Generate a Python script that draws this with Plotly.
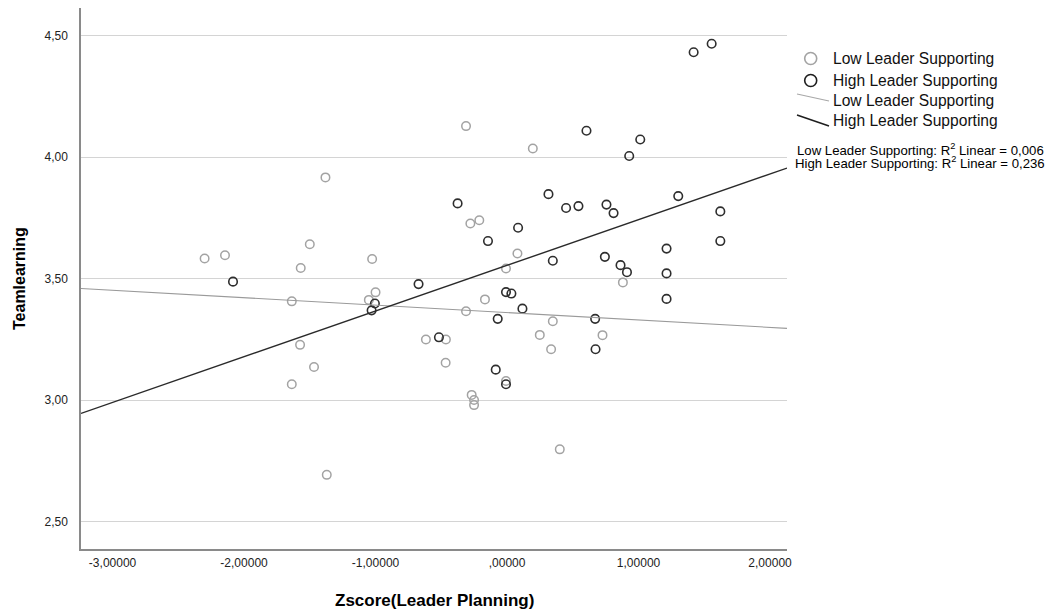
import plotly.graph_objects as go

# ---- data ----
low_x = [-2.300, -2.145, -1.381, -1.500, -1.569, -1.026, -1.637, -1.000, -1.051, -1.574,
         -1.468, -1.637, -0.617, -0.465, -0.467, -0.312, 0.196, -0.279, -0.211, 0.079,
         -0.008, 0.881, -0.168, -0.312, 0.348, 0.249, 0.726, 0.335, -0.008, -0.269,
         -0.251, -0.251, 0.401, -1.371]
low_y = [3.583, 3.597, 3.917, 3.642, 3.544, 3.581, 3.407, 3.444, 3.413, 3.228,
         3.137, 3.066, 3.250, 3.250, 3.154, 4.128, 4.036, 3.727, 3.741, 3.604,
         3.542, 3.485, 3.415, 3.366, 3.325, 3.269, 3.268, 3.210, 3.079, 3.022,
         3.001, 2.980, 2.798, 2.693]

high_x = [-2.084, -0.673, -1.005, -1.030, -0.518, 0.604, 1.013, 0.929, -0.376, 0.315,
          0.449, 0.543, 0.756, 0.810, 1.302, 1.622, 1.622, 0.084, -0.145, 0.348,
          0.744, 0.863, 0.912, 1.213, 1.213, 1.213, -0.008, 0.033, 0.117, -0.071,
          0.670, 0.673, -0.086, -0.008, 1.419, 1.556]
high_y = [3.488, 3.478, 3.398, 3.370, 3.259, 4.109, 4.073, 4.005, 3.810, 3.848,
          3.791, 3.799, 3.805, 3.770, 3.840, 3.777, 3.655, 3.710, 3.655, 3.574,
          3.590, 3.556, 3.527, 3.624, 3.522, 3.417, 3.445, 3.439, 3.377, 3.335,
          3.335, 3.210, 3.126, 3.066, 4.432, 4.467]

# linear fit lines (intercept, slope)
low_fit = [3.361, -0.0306]
high_fit = [3.555, 0.188]

x_range = [-3.240, 2.129]
y_range = [2.388, 4.614]

x_tickvals = [-3, -2, -1, 0, 1, 2]
x_ticktext = ["-3,00000", "-2,00000", "-1,00000", ",00000", "1,00000", "2,00000"]
y_tickvals = [2.5, 3.0, 3.5, 4.0, 4.5]
y_ticktext = ["2,50", "3,00", "3,50", "4,00", "4,50"]

series_names = ["Low Leader Supporting", "High Leader Supporting"]
r2_texts = ["Low Leader Supporting: R<sup>2</sup> Linear = 0,006",
            "High Leader Supporting: R<sup>2</sup> Linear = 0,236"]

LOW_C = "#a3a3a3"
HIGH_C = "#2e2e2e"
FONT = "Liberation Sans, Arial, sans-serif"

# page body has an 8px margin: build the figure in page coordinates minus that offset
OFF = 8
W, H = 1054 - OFF, 614 - OFF
L, R, T, B = 81 - OFF, 787 - OFF, 8 - OFF, 549 - OFF


def px(xp):
    return (xp - OFF - L) / (R - L)


def py(yp):
    return (B - (yp - OFF)) / (B - T)


fig = go.Figure()

fig.add_trace(go.Scatter(
    x=low_x, y=low_y, mode="markers", name=series_names[0],
    marker=dict(symbol="circle", size=8.5, color="rgba(0,0,0,0)",
                line=dict(color=LOW_C, width=1.5)),
    showlegend=False, cliponaxis=False))
fig.add_trace(go.Scatter(
    x=high_x, y=high_y, mode="markers", name=series_names[1],
    marker=dict(symbol="circle", size=8.5, color="rgba(0,0,0,0)",
                line=dict(color=HIGH_C, width=1.6)),
    showlegend=False, cliponaxis=False))

for fit, col, w in [(low_fit, "#9a9a9a", 1.1), (high_fit, "#2a2a2a", 1.4)]:
    xs = list(x_range)
    ys = [fit[0] + fit[1] * v for v in xs]
    fig.add_trace(go.Scatter(x=xs, y=ys, mode="lines",
                             line=dict(color=col, width=w),
                             showlegend=False, hoverinfo="skip"))

shapes = []
annotations = []

# custom legend: circles
for cy, col in [(58.5, LOW_C), (80.5, "#1e1e1e")]:
    shapes.append(dict(type="circle", xref="paper", yref="paper",
                       xsizemode="pixel", ysizemode="pixel",
                       xanchor=px(810.7), yanchor=py(cy),
                       x0=-6, x1=6, y0=-6, y1=6,
                       line=dict(color=col, width=1.6), fillcolor="rgba(0,0,0,0)"))
# legend lines (diagonal)
for (y0, y1), col, w in [((94, 101), "#a8a8a8", 1.2), ((115, 126), "#1e1e1e", 1.5)]:
    shapes.append(dict(type="line", xref="paper", yref="paper",
                       x0=px(797), x1=px(829), y0=py(y0), y1=py(y1),
                       line=dict(color=col, width=w)))

for cy, name in zip([59, 80.5, 100, 120.5], series_names + series_names):
    annotations.append(dict(text=name, xref="paper", yref="paper",
                            x=px(830.5), y=py(cy), xanchor="left", yanchor="middle",
                            showarrow=False,
                            font=dict(family=FONT, size=15.6, color="#111111")))

for cy, t in zip([149.5, 163], r2_texts):
    annotations.append(dict(text=t, xref="paper", yref="paper",
                            x=px(920), y=py(cy), xanchor="center", yanchor="middle",
                            showarrow=False,
                            font=dict(family=FONT, size=13.2, color="#000000")))

# axis titles
annotations.append(dict(text="<b>Teamlearning</b>", xref="paper", yref="paper",
                        x=px(19), y=py(279), xanchor="center", yanchor="middle",
                        textangle=-90, showarrow=False,
                        font=dict(family=FONT, size=16, color="#000000")))
annotations.append(dict(text="<b>Zscore(Leader Planning)</b>", xref="paper", yref="paper",
                        x=px(434), y=py(600), xanchor="center", yanchor="middle",
                        showarrow=False,
                        font=dict(family=FONT, size=17, color="#000000")))

fig.update_layout(
    width=W, height=H,
    margin=dict(l=L, r=W - R, t=T, b=H - B, autoexpand=False),
    paper_bgcolor="white", plot_bgcolor="white",
    font=dict(family=FONT, size=12, color="#222222"),
    shapes=shapes, annotations=annotations,
    showlegend=False,
)
fig.update_xaxes(range=x_range, tickvals=x_tickvals, ticktext=x_ticktext,
                 showgrid=False, zeroline=False, showline=True,
                 linecolor="#8a8a8a", linewidth=1.5, ticks="",
                 ticklabelstandoff=2, tickfont=dict(size=12, color="#222222"))
fig.update_yaxes(range=y_range, tickvals=y_tickvals, ticktext=y_ticktext,
                 showgrid=True, gridcolor="#d4d4d4", gridwidth=1,
                 zeroline=False, showline=True,
                 linecolor="#8a8a8a", linewidth=1.5, ticks="",
                 ticklabelstandoff=9, tickfont=dict(size=12, color="#222222"))

fig.write_html("out.html")
